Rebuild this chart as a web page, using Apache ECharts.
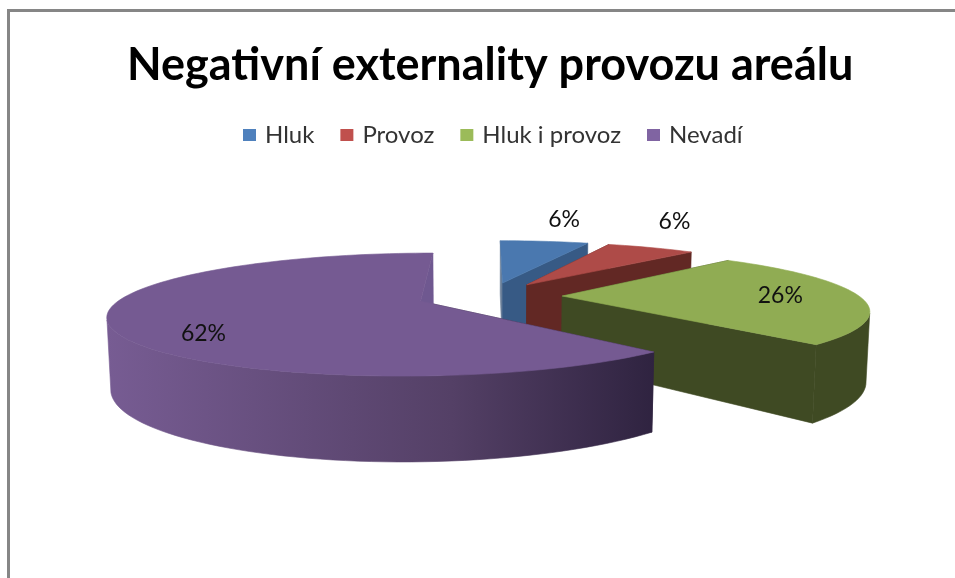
<!DOCTYPE html>
<html><head><meta charset="utf-8">
<style>html,body{margin:0;padding:0;background:#fff}#c{width:955px;height:578px}</style>
<script src="https://cdn.jsdelivr.net/npm/echarts@6/dist/echarts.min.js"></script>
</head><body><div id="c"></div>
<script>
const titleText = 'Negativní externality provozu areálu';
const categories = ['Hluk', 'Provoz', 'Hluk i provoz', 'Nevadí'];
const values = [6, 6, 26, 62];
const labels = ['6%', '6%', '26%', '62%'];

const topColors = ['#4A78AF', '#AE4B48', '#90AC53', '#755A92'];
const legendColors = ['#4F81BD', '#C0504D', '#9BBB59', '#8064A2'];
const endWallColors = ['#375A85', '#622824', '#3F4A23', '#6F5890'];
const startWallColors = ['#6B7F99', '#622824', '#3F4A23', '#30243E'];
const arcStops = [null, null, null, [[0, '#775C93'], [0.63, '#544066'], [1, '#2F2340']]];
// label anchor in slice polar form: angle shift (deg), radius (pie radii)
const labelAnchor = [[-0.4, 1.71], [-8.0, 1.78], [0, 0.735], [-17.2, 0.79]];

const cam = {cx: 489.5, cy: 296, D: 4.6, f: 1365, e: 10.95 * Math.PI / 180, h: 0.2316, explode: 0.245};
const total = values.reduce((a, b) => a + b, 0);

function project(X, Y, Z) {
  const ye = Y * Math.cos(cam.e) + Z * Math.sin(cam.e);
  const ze = cam.D + Z * Math.cos(cam.e) - Y * Math.sin(cam.e);
  return [cam.cx + cam.f * X / ze, cam.cy - cam.f * ye / ze];
}
const rad = d => d * Math.PI / 180;

function sliceGroup(i) {
  const before = values.slice(0, i).reduce((a, b) => a + b, 0);
  const a0 = before / total * 360, a1 = (before + values[i]) / total * 360, mid = (a0 + a1) / 2;
  const cX = cam.explode * Math.sin(rad(mid)), cZ = cam.explode * Math.cos(rad(mid));
  const rim = (a, Y) => project(cX + Math.sin(rad(a)), Y, cZ + Math.cos(rad(a)));
  const apex = Y => project(cX, Y, cZ);
  const steps = Math.max(8, Math.round((a1 - a0) / 2));
  const camX = -cX, camZ = -cam.D * Math.cos(cam.e) - cZ;
  const rimFaces = a => {
    const nx = Math.sin(rad(a)), nz = Math.cos(rad(a));
    return nx * (camX - nx) + nz * (camZ - nz) > 0;
  };
  const top = [], visTop = [], visLow = [];
  for (let k = 0; k <= steps; k++) {
    const a = a0 + (a1 - a0) * k / steps;
    top.push(rim(a, 0));
    if (rimFaces(a)) { visTop.push(rim(a, 0)); visLow.push(rim(a, -cam.h)); }
  }
  const poly = (points, fill) => ({type: 'polygon', shape: {points},
    style: {fill, stroke: fill, lineWidth: 0.6, lineJoin: 'round'}, silent: true});
  const startFront = -Math.cos(rad(a0)) * camX + Math.sin(rad(a0)) * camZ > 0;
  const endFront = Math.cos(rad(a1)) * camX - Math.sin(rad(a1)) * camZ > 0;
  const startWall = poly([apex(0), rim(a0, 0), rim(a0, -cam.h), apex(-cam.h)], startWallColors[i]);
  const endWall = poly([apex(0), rim(a1, 0), rim(a1, -cam.h), apex(-cam.h)], endWallColors[i]);
  const arcFill = arcStops[i]
    ? new echarts.graphic.LinearGradient(0, 0, 1, 0, arcStops[i].map(s => ({offset: s[0], color: s[1]})))
    : endWallColors[i];
  const topFace = poly([apex(0)].concat(top), topColors[i]);
  const la = rad(mid + labelAnchor[i][0]), lr = labelAnchor[i][1];
  const lp = project(cX + lr * Math.sin(la), 0, cZ + lr * Math.cos(la));
  const text = {type: 'text', x: lp[0], y: lp[1], silent: true,
    style: {text: labels[i], fill: '#111', font: '23px Lato', align: 'center', verticalAlign: 'middle'}, z2: 50};
  const children = [];
  if (!startFront) children.push(startWall);
  if (!endFront) children.push(endWall);
  if (visTop.length > 1) children.push(poly(visTop.concat(visLow.slice().reverse()), arcFill));
  if (startFront) children.push(startWall);
  if (endFront) children.push(endWall);
  children.push(topFace, text);
  return {type: 'group', children};
}

const chart = echarts.init(document.getElementById('c'), null, {renderer: 'canvas'});
chart.setOption({
  animation: false,
  backgroundColor: '#fff',
  title: {text: titleText, left: 122, top: 38,
    textStyle: {fontFamily: 'Lato', fontWeight: 'bold', fontSize: 45, color: '#000'}},
  legend: {top: 118, left: 238, itemWidth: 13, itemHeight: 12, itemGap: 26, icon: 'rect',
    textStyle: {fontFamily: 'Lato', fontSize: 24, color: '#333', padding: [0, 0, 0, 4]},
    data: categories, selectedMode: false},
  graphic: [
    {type: 'rect', shape: {x: 7, y: 9, width: 948, height: 3}, style: {fill: '#868686'}, silent: true},
    {type: 'rect', shape: {x: 7, y: 9, width: 3, height: 569}, style: {fill: '#868686'}, silent: true}
  ],
  series: categories.map((name, i) => ({
    type: 'custom', name, coordinateSystem: 'none', silent: true,
    itemStyle: {color: legendColors[i]},
    data: [values[i]],
    renderItem: () => sliceGroup(i)
  }))
});
</script></body></html>
